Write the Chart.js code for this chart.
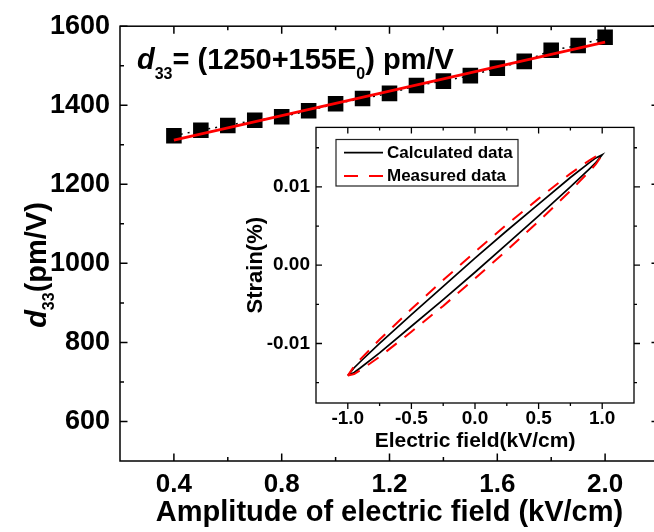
<!DOCTYPE html>
<html>
<head>
<meta charset="utf-8">
<script src="https://cdn.jsdelivr.net/npm/chart.js@4.4.0/dist/chart.umd.min.js"></script>
<style>
  html, body { margin: 0; padding: 0; background: #fff; overflow: hidden; }
  #wrap { position: relative; width: 654px; height: 532px; overflow: hidden; background: #fff; }
  #mainBox { position: absolute; left: 0; top: 0; width: 680px; height: 532px; }
  #insetBox { position: absolute; left: 240px; top: 110px; width: 410px; height: 346px; }
</style>
</head>
<body>
<div id="wrap">
  <div id="mainBox"><canvas id="main"></canvas></div>
  <div id="insetBox"><canvas id="inset"></canvas></div>
</div>
<script>
// main plot data
var fieldAmp = [0.4, 0.5, 0.6, 0.7, 0.8, 0.9, 1.0, 1.1, 1.2, 1.3, 1.4, 1.5, 1.6, 1.7, 1.8, 1.9, 2.0];
var d33 = [1323, 1337, 1349, 1362, 1371, 1386, 1404, 1417, 1430, 1450, 1461, 1475, 1494, 1511, 1539, 1551, 1572];
var fitX = [0.4, 2.0];
var fitY = [1312, 1560];
var mainXTicks = [0.4, 0.8, 1.2, 1.6, 2.0];
var mainXMinor = [0.6, 1.0, 1.4, 1.8];
var mainYTicks = [600, 800, 1000, 1200, 1400, 1600];
var mainYMinor = [700, 900, 1100, 1300, 1500];

// inset data (strain loops)
var fieldX = [-1, -0.95, -0.9, -0.75, -0.5, -0.25, 0, 0.25, 0.5, 0.75, 0.9, 0.95, 1];
var calcUpper = [-0.0141, -0.0131, -0.0123, -0.0100, -0.0063, -0.0027, 0.0009, 0.0044, 0.0078, 0.0112, 0.0131, 0.0137, 0.0141];
var calcLower = [-0.0141, -0.0137, -0.0131, -0.0112, -0.0078, -0.0044, -0.0009, 0.0027, 0.0063, 0.0100, 0.0123, 0.0131, 0.0141];
var measUpper = [-0.0141, -0.0129, -0.0120, -0.0095, -0.0056, -0.0019, 0.0017, 0.0052, 0.0085, 0.0117, 0.0134, 0.0139, 0.0141];
var measLower = [-0.0141, -0.0139, -0.0134, -0.0117, -0.0085, -0.0052, -0.0017, 0.0019, 0.0056, 0.0095, 0.0120, 0.0129, 0.0141];
var insetXTicks = [-1, -0.5, 0, 0.5, 1];
var insetXMinor = [-0.75, -0.25, 0.25, 0.75];
var insetYTicks = [-0.01, 0, 0.01];
var insetYMinor = [-0.015, -0.005, 0.005, 0.015];

var FONT = '"Liberation Sans", Arial, Helvetica, sans-serif';
Chart.defaults.font.family = FONT;
Chart.defaults.color = '#000';

function toPoints(xs, ys) {
  return xs.map(function(x, i) { return {x: x, y: ys[i]}; });
}
// go up along the lower branch, come back along the upper one
function loopPoints(xs, lower, upper) {
  var pts = toPoints(xs, lower);
  for (var i = xs.length - 1; i >= 0; i--) pts.push({x: xs[i], y: upper[i]});
  return pts;
}

// frame box + major/minor ticks on all four sides
function frameTicks(cfg) {
  return {
    id: 'frameTicks',
    beforeDraw: function(chart) {
      if (!cfg.fill) return;
      var a = chart.chartArea, ctx = chart.ctx;
      ctx.save();
      ctx.fillStyle = '#fff';
      ctx.fillRect(a.left, a.top, a.right - a.left, a.bottom - a.top);
      ctx.restore();
    },
    afterDraw: function(chart) {
      var ctx = chart.ctx, a = chart.chartArea;
      var xs = chart.scales.x, ys = chart.scales.y;
      ctx.save();
      ctx.strokeStyle = '#000';
      ctx.lineWidth = cfg.lw;
      ctx.strokeRect(a.left, a.top, a.right - a.left, a.bottom - a.top);
      ctx.beginPath();
      function xt(v, len) {
        var p = xs.getPixelForValue(v);
        ctx.moveTo(p, a.bottom); ctx.lineTo(p, a.bottom + cfg.bottomDir * len);
        ctx.moveTo(p, a.top); ctx.lineTo(p, a.top + cfg.topDir * len);
      }
      function yt(v, len) {
        var p = ys.getPixelForValue(v);
        ctx.moveTo(a.left, p); ctx.lineTo(a.left + cfg.leftDir * len, p);
        ctx.moveTo(a.right, p); ctx.lineTo(a.right + cfg.rightDir * len, p);
      }
      cfg.xMajor.forEach(function(v) { xt(v, cfg.major); });
      cfg.xMinor.forEach(function(v) { xt(v, cfg.minor); });
      cfg.yMajor.forEach(function(v) { yt(v, cfg.major); });
      cfg.yMinor.forEach(function(v) { yt(v, cfg.minor); });
      ctx.stroke();
      ctx.restore();
      if (cfg.extra) cfg.extra(chart);
    }
  };
}

// text with italic d and subscripts, drawn from left at baseline
function richText(ctx, parts, x, y) {
  parts.forEach(function(p) {
    ctx.font = p.f;
    ctx.fillText(p.t, x, y + (p.dy || 0));
    x += ctx.measureText(p.t).width;
  });
}
function richWidth(ctx, parts) {
  var w = 0;
  parts.forEach(function(p) { ctx.font = p.f; w += ctx.measureText(p.t).width; });
  return w;
}

function mainExtra(chart) {
  var ctx = chart.ctx;
  ctx.save();
  ctx.fillStyle = '#000';
  ctx.textBaseline = 'alphabetic';
  // fit equation
  richText(ctx, [
    {t: 'd', f: 'italic bold 29px ' + FONT},
    {t: '33', f: 'bold 16px ' + FONT, dy: 10},
    {t: '= (1250+155E', f: 'bold 29px ' + FONT},
    {t: '0', f: 'bold 16px ' + FONT, dy: 10},
    {t: ') pm/V', f: 'bold 29px ' + FONT}
  ], 137, 69);
  // y axis title
  var yt = [
    {t: 'd', f: 'italic bold 29px ' + FONT},
    {t: '33', f: 'bold 16px ' + FONT, dy: 8},
    {t: '(pm/V)', f: 'bold 29px ' + FONT}
  ];
  ctx.translate(46, 265);
  ctx.rotate(-Math.PI / 2);
  richText(ctx, yt, -richWidth(ctx, yt) / 2, 0);
  ctx.restore();
}

new Chart(document.getElementById('main'), {
  type: 'line',
  data: {
    datasets: [
      {
        label: 'Fit',
        data: toPoints(fitX, fitY),
        borderColor: '#ff0000',
        borderWidth: 2.8,
        pointRadius: 0,
        fill: false
      },
      {
        label: 'd33',
        data: toPoints(fieldAmp, d33),
        borderColor: '#000',
        borderWidth: 1.5,
        borderDash: [2, 5],
        pointStyle: 'rect',
        pointRadius: 11,
        pointBackgroundColor: '#000',
        pointBorderColor: '#000',
        pointBorderWidth: 0,
        fill: false
      }
    ]
  },
  options: {
    responsive: true,
    maintainAspectRatio: false,
    animation: false,
    layout: { padding: { top: 23, right: 21, left: 0, bottom: 0 } },
    plugins: { legend: { display: false }, tooltip: { enabled: false } },
    scales: {
      x: {
        type: 'linear', min: 0.2, max: 2.2,
        afterBuildTicks: function(s) { s.ticks = mainXTicks.map(function(v) { return {value: v}; }); },
        afterFit: function(s) { s.height = 71; },
        grid: { display: false, drawTicks: false },
        border: { display: false },
        ticks: {
          autoSkip: false, maxRotation: 0, padding: 8, color: '#000',
          font: { size: 26, weight: 'bold' },
          callback: function(v) { return v.toFixed(1); }
        },
        title: {
          display: true, text: 'Amplitude of electric field (kV/cm)', color: '#000',
          font: { size: 29, weight: 'bold' }, padding: { top: 0, bottom: 2 }
        }
      },
      y: {
        type: 'linear', min: 500, max: 1600,
        afterBuildTicks: function(s) { s.ticks = mainYTicks.map(function(v) { return {value: v}; }); },
        afterFit: function(s) { s.width = 120; },
        grid: { display: false, drawTicks: false },
        border: { display: false },
        ticks: {
          autoSkip: false, padding: 10, color: '#000',
          font: { size: 27, weight: 'bold' },
          callback: function(v) { return String(v); }
        }
      }
    }
  },
  plugins: [frameTicks({
    lw: 1.5, major: 7.5, minor: 4,
    bottomDir: -1, topDir: 1, leftDir: 1, rightDir: -1,
    xMajor: mainXTicks, xMinor: mainXMinor, yMajor: mainYTicks, yMinor: mainYMinor,
    extra: mainExtra
  })]
});

function insetLegend(chart) {
  var ctx = chart.ctx;
  ctx.save();
  ctx.fillStyle = '#fff';
  ctx.fillRect(96, 29.5, 182, 46.5);
  ctx.strokeStyle = '#222';
  ctx.lineWidth = 1.2;
  ctx.strokeRect(96, 29.5, 182, 46.5);
  ctx.lineWidth = 1.8;
  ctx.strokeStyle = '#000';
  ctx.beginPath(); ctx.moveTo(104, 42.7); ctx.lineTo(143, 42.7); ctx.stroke();
  ctx.strokeStyle = '#ff0000';
  ctx.lineWidth = 2;
  ctx.setLineDash([14, 11]);
  ctx.beginPath(); ctx.moveTo(104, 66); ctx.lineTo(143, 66); ctx.stroke();
  ctx.setLineDash([]);
  ctx.fillStyle = '#000';
  ctx.font = 'bold 17px ' + FONT;
  ctx.textBaseline = 'middle';
  ctx.fillText('Calculated data', 147, 43);
  ctx.fillText('Measured data', 147, 66.5);
  ctx.restore();
}

new Chart(document.getElementById('inset'), {
  type: 'line',
  data: {
    datasets: [
      {
        label: 'Measured data',
        data: loopPoints(fieldX, measLower, measUpper),
        borderColor: '#ff0000',
        borderWidth: 2,
        borderDash: [13, 10],
        pointRadius: 0,
        fill: false
      },
      {
        label: 'Calculated data',
        data: loopPoints(fieldX, calcLower, calcUpper),
        borderColor: '#000',
        borderWidth: 1.7,
        pointRadius: 0,
        fill: false
      }
    ]
  },
  options: {
    responsive: true,
    maintainAspectRatio: false,
    animation: false,
    layout: { padding: { top: 12, right: 16, left: 0, bottom: 0 } },
    plugins: { legend: { display: false }, tooltip: { enabled: false } },
    scales: {
      x: {
        type: 'linear', min: -1.25, max: 1.25,
        afterBuildTicks: function(s) { s.ticks = insetXTicks.map(function(v) { return {value: v}; }); },
        afterFit: function(s) { s.height = 53; },
        grid: { display: false, drawTicks: false },
        border: { display: false },
        ticks: {
          autoSkip: false, maxRotation: 0, padding: 4, color: '#000',
          font: { size: 19, weight: 'bold' },
          callback: function(v) { return v.toFixed(1); }
        },
        title: {
          display: true, text: 'Electric field(kV/cm)', color: '#000',
          font: { size: 21, weight: 'bold' }, padding: { top: 0, bottom: 2 }
        }
      },
      y: {
        type: 'linear', min: -0.0176, max: 0.0176,
        afterBuildTicks: function(s) { s.ticks = insetYTicks.map(function(v) { return {value: v}; }); },
        afterFit: function(s) { s.width = 76; },
        grid: { display: false, drawTicks: false },
        border: { display: false },
        ticks: {
          autoSkip: false, padding: 6, color: '#000',
          font: { size: 19, weight: 'bold' },
          callback: function(v) { return v.toFixed(2); }
        },
        title: {
          display: true, text: 'Strain(%)', color: '#000',
          font: { size: 22, weight: 'bold' }, padding: { top: 3, bottom: 0 }
        }
      }
    }
  },
  plugins: [frameTicks({
    fill: true, lw: 1.3, major: 6, minor: 3,
    bottomDir: 1, topDir: 1, leftDir: 1, rightDir: 1,
    xMajor: insetXTicks, xMinor: insetXMinor, yMajor: insetYTicks, yMinor: insetYMinor,
    extra: insetLegend
  })]
});
</script>
</body>
</html>
